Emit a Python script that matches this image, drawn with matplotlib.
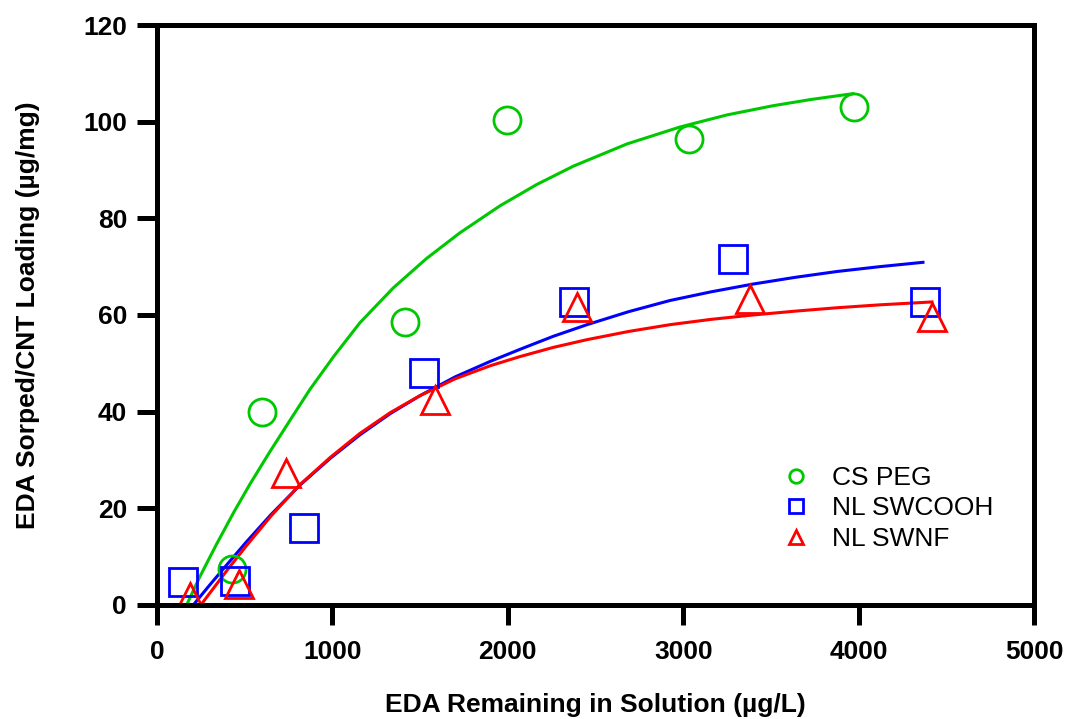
import matplotlib
matplotlib.use("Agg")
import matplotlib.pyplot as plt

plt.rcParams['font.family'] = ['Liberation Sans', 'DejaVu Sans']

# measured points
peg_x = [430, 600, 1415, 1995, 3033, 3974]
peg_y = [7.5, 40.0, 58.6, 100.3, 96.5, 103.0]

cooh_x = [148, 445, 838, 1522, 2375, 3284, 4378]
cooh_y = [4.8, 5.0, 15.9, 48.0, 62.7, 71.6, 62.7]

swnf_x = [188, 467, 735, 1585, 2395, 3381, 4418]
swnf_y = [1.7, 4.3, 27.4, 42.5, 61.6, 63.3, 59.5]

# fitted curves
peg_fit_x = [169, 245, 340, 435, 530, 640, 760, 872, 1005, 1157, 1347, 1537,
             1727, 1956, 2165, 2374, 2680, 2982, 3250, 3512, 3730, 3968]
peg_fit_y = [0.0, 5.9, 12.6, 19.0, 25.0, 31.5, 38.3, 44.6, 51.3, 58.4, 65.6, 71.7,
             77.0, 82.6, 87.0, 90.8, 95.4, 98.9, 101.4, 103.3, 104.6, 105.8]

cooh_fit_x = [207, 300, 400, 511, 650, 815, 990, 1157, 1330, 1499, 1700, 1900,
              2070, 2260, 2452, 2690, 2925, 3160, 3398, 3640, 3877, 4120, 4367]
cooh_fit_y = [0.0, 4.1, 8.4, 13.1, 18.7, 24.8, 30.4, 35.2, 39.6, 43.3, 47.2, 50.4,
              52.9, 55.6, 58.0, 60.7, 63.0, 64.8, 66.4, 67.8, 69.0, 70.0, 70.9]

swnf_fit_x = [250, 400, 511, 650, 815, 990, 1157, 1330, 1499, 1700, 1900, 2070,
              2260, 2452, 2690, 2925, 3160, 3398, 3640, 3877, 4120, 4418]
swnf_fit_y = [0.0, 7.2, 12.3, 18.4, 24.9, 30.6, 35.5, 39.8, 43.3, 46.8, 49.5, 51.4,
              53.3, 54.9, 56.6, 58.0, 59.1, 60.0, 60.8, 61.5, 62.1, 62.7]

green = '#00c800'
blue = '#0000ff'
red = '#ff0000'

fig = plt.figure(figsize=(10.65, 7.19), dpi=100)
ax = fig.add_axes([0.1474, 0.1586, 0.8235, 0.8066])

ax.plot(peg_fit_x, peg_fit_y, color=green, lw=2.2)
ax.plot(cooh_fit_x, cooh_fit_y, color=blue, lw=2.2)
ax.plot(swnf_fit_x, swnf_fit_y, color=red, lw=2.2)

ax.plot(peg_x, peg_y, 'o', ms=19.5, mfc='none', mec=green, mew=2, label='CS PEG')
ax.plot(cooh_x, cooh_y, 's', ms=20, mfc='none', mec=blue, mew=2, label='NL SWCOOH')
ax.plot(swnf_x, swnf_y, '^', ms=20, mfc='none', mec=red, mew=2, label='NL SWNF')

ax.set_xlim(0, 5000)
ax.set_ylim(0, 120)
ax.set_xticks([0, 1000, 2000, 3000, 4000, 5000])
ax.set_yticks([0, 20, 40, 60, 80, 100, 120])

for s in ax.spines.values():
    s.set_linewidth(3.6)
ax.tick_params(direction='out', length=14.5, width=3.6, labelsize=19)
ax.tick_params(axis='x', pad=11)
ax.tick_params(axis='y', pad=7)
for lab in ax.get_xticklabels() + ax.get_yticklabels():
    lab.set_fontweight('bold')

ax.set_xlabel('EDA Remaining in Solution (µg/L)', fontsize=19, fontweight='bold')
ax.xaxis.set_label_coords(0.5, -0.152)
ax.set_ylabel('EDA Sorped/CNT Loading (µg/mg)', fontsize=19, fontweight='bold')
ax.yaxis.set_label_coords(-0.133, 0.5)

ax.legend(loc='upper left', bbox_to_anchor=(0.714, 0.240), frameon=False,
          fontsize=19, markerscale=0.5, handlelength=1.0, handletextpad=0.86,
          labelspacing=0.25, borderaxespad=0, borderpad=0)

fig.savefig('out.png', dpi=100)
